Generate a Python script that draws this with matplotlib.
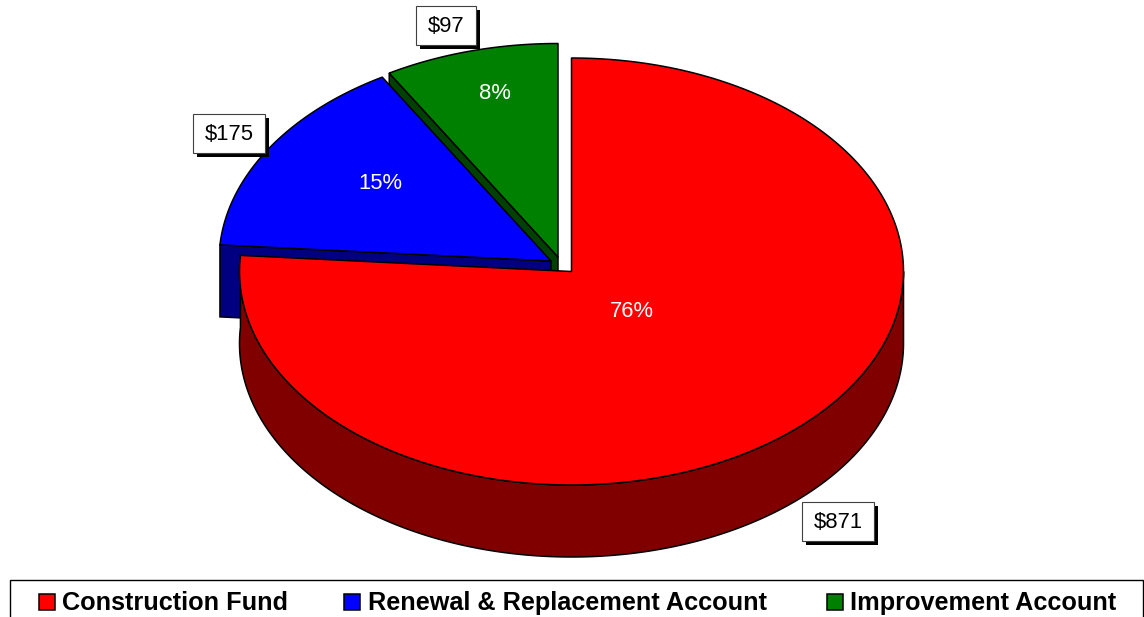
import numpy as np
import matplotlib
matplotlib.use("Agg")
import matplotlib.pyplot as plt
from matplotlib.patches import Polygon, Rectangle

# ---- DATA ----
categories = ["Construction Fund", "Renewal & Replacement Account", "Improvement Account"]
amounts = [871, 175, 97]

# ---- STYLE ----
top_colors = ["#ff0000", "#0000ff", "#008000"]
side_colors = ["#800000", "#000080", "#004000"]
apexes = [(571.5, 271.5), (551, 261), (558, 257)]
RX, RY, DEPTH = 332, 213.5, 72
plt.rcParams["font.family"] = ["Liberation Sans", "DejaVu Sans"]
PX = 0.72  # font px to pt at dpi 100

pct_pos = [(632, 317), (380, 189), (495, 99)]
box_pos = [(802, 502, 874, 541), (193, 114, 265, 153), (416, 6, 476, 45)]
legend_swatch_x = [39, 344, 827]
legend_text_x = [62, 368, 850]


def arc(apex, t0, t1, drop=0):
    t = np.radians(np.linspace(t0, t1, 240))
    return np.column_stack([apex[0] + RX * np.sin(t), apex[1] - RY * np.cos(t) + drop])


def wall(ax, apex, t0, t1, color):
    top = arc(apex, t0, t1)
    ax.add_patch(Polygon(np.vstack([top, (top + [0, DEPTH])[::-1]]), closed=True,
                         fc=color, ec="black", lw=1.1, joinstyle="round"))


def radial_face(ax, apex, t, color):
    p = arc(apex, t, t)[0]
    pts = [p, apex, (apex[0], apex[1] + DEPTH), (p[0], p[1] + DEPTH)]
    ax.add_patch(Polygon(pts, closed=True, fc=color, ec="black", lw=1.1))


def top_face(ax, apex, t0, t1, color):
    pts = np.vstack([[apex], arc(apex, t0, t1)])
    ax.add_patch(Polygon(pts, closed=True, fc=color, ec="black", lw=1.1, joinstyle="round"))


def main():
    fig = plt.figure(figsize=(11.44, 6.17), dpi=100)
    ax = fig.add_axes([0, 0, 1, 1])
    ax.set_xlim(0, 1144)
    ax.set_ylim(617, 0)
    ax.axis("off")

    # slice angles run clockwise from 12 o'clock
    total = sum(amounts)
    edges = np.cumsum([0] + amounts) / total * 360

    # back slices first, red goes on top of them
    radial_face(ax, apexes[2], edges[2], side_colors[2])
    top_face(ax, apexes[2], edges[2], edges[3], top_colors[2])
    radial_face(ax, apexes[1], edges[1], side_colors[1])
    top_face(ax, apexes[1], edges[1], edges[2], top_colors[1])
    wall(ax, apexes[0], 90, edges[1], side_colors[0])
    top_face(ax, apexes[0], edges[0], edges[1], top_colors[0])

    for i, amount in enumerate(amounts):
        ax.text(*pct_pos[i], f"{amount / total * 100:.0f}%", color="white",
                fontsize=22 * PX, ha="center", va="baseline")
        x0, y0, x1, y1 = box_pos[i]
        ax.add_patch(Rectangle((x0 + 4, y0 + 4), x1 - x0, y1 - y0, fc="black", ec="none"))
        ax.add_patch(Rectangle((x0, y0), x1 - x0, y1 - y0, fc="white", ec="#404040", lw=0.8))
        ax.text((x0 + x1) / 2, (y0 + y1) / 2 + 7, f"${amount}", color="black",
                fontsize=22 * PX, ha="center", va="baseline")

    # legend, bottom of its frame runs off the picture
    ax.add_patch(Rectangle((10, 580), 1133, 60, fc="white", ec="black", lw=1.0))
    for i, name in enumerate(categories):
        ax.add_patch(Rectangle((legend_swatch_x[i], 594), 16, 16, fc=top_colors[i], ec="black", lw=1.1))
        ax.text(legend_text_x[i], 610, name, color="black", fontweight="bold",
                fontsize=25.3 * PX, ha="left", va="baseline")

    fig.savefig("out.png", dpi=100, facecolor="white")
    plt.close(fig)


if __name__ == "__main__":
    main()
